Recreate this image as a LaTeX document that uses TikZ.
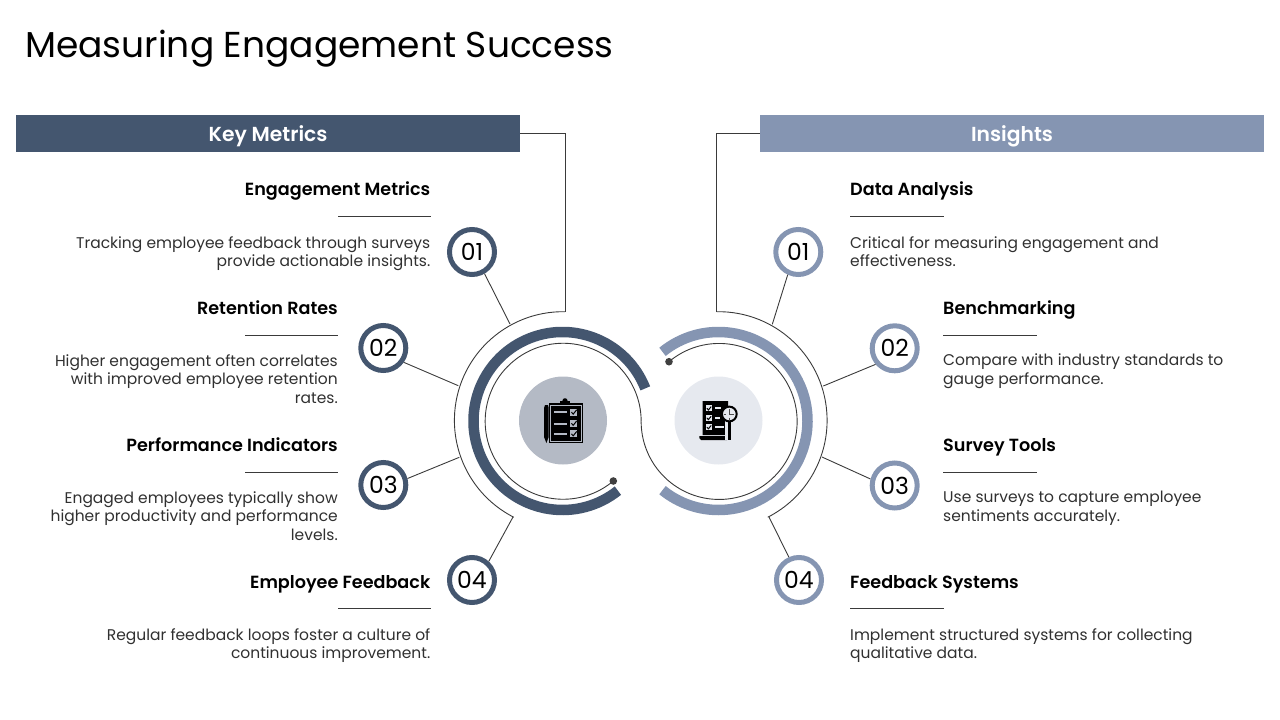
\documentclass[tikz,border=0pt]{standalone}
\usepackage{fontspec}
\setmainfont{Poppins}
\newfontfamily\semib{Poppins SemiBold}
\definecolor{navy}{HTML}{44566F}
\definecolor{steel}{HTML}{8595B2}
\definecolor{discA}{HTML}{B4BAC5}
\definecolor{discB}{HTML}{E6E9EF}
\definecolor{wire}{HTML}{3A3A3A}
\definecolor{dot}{HTML}{404040}
\definecolor{body}{HTML}{303030}
\tikzset{
  thin wire/.style={draw=wire,line width=0.9pt},
  band/.style={line width=10.5pt},
  numA/.style={circle,draw=navy,line width=5pt,minimum size=45pt,inner sep=0pt,text height=17pt,text depth=0pt,font=\fontsize{23.5}{24}\selectfont,text=black},
  numB/.style={circle,draw=steel,line width=5pt,minimum size=45pt,inner sep=0pt,text height=17pt,text depth=0pt,font=\fontsize{23.5}{24}\selectfont,text=black},
  header/.style={minimum width=504pt,minimum height=37pt,inner sep=0pt,text=white},
  hdrtxt/.style={inner sep=0pt,text=white,font=\fontsize{20.3}{22}\selectfont\semib},
  ttlL/.style={anchor=base east,inner sep=0pt,font=\fontsize{17.6}{20}\selectfont\semib,text=black},
  ttlR/.style={anchor=base west,inner sep=0pt,font=\fontsize{17.6}{20}\selectfont\semib,text=black},
  txtL/.style={anchor=north east,inner sep=0pt,align=right,font=\fontsize{15.5}{18.5}\selectfont,text=body},
  txtR/.style={anchor=north west,inner sep=0pt,align=left,font=\fontsize{15.5}{18.5}\selectfont,text=body},
  rulel/.style={draw=wire,line width=0.8pt},
  tick/.style={draw=black,line width=1pt,line cap=round},
}
\begin{document}
\begin{tikzpicture}[x=1pt,y=-1pt]
\useasboundingbox (0,0) rectangle (1280,720);
\node[anchor=base west,inner sep=0pt,font=\fontsize{36}{40}\selectfont,text=black] (title) at (25,57) {Measuring Engagement Success};
\node[header,fill=navy] (hk) at (268,133.5) {};
\node[header,fill=steel] (hi) at (1012,133.5) {};
\node[hdrtxt,anchor=base] (hkt) at (268,141) {Key Metrics};
\node[hdrtxt,anchor=base] (hit) at (1012,141) {Insights};
% ring joints
\coordinate (ringL) at (565,311.7);
\coordinate (ringR) at (716.5,311.7);
\coordinate (a1) at (510,324);
\coordinate (a2) at (458.3,385.7);
\coordinate (a3) at (459.3,457.3);
\coordinate (a4) at (513,517);
\coordinate (b1) at (772.3,324.3);
\coordinate (b2) at (823.3,386);
\coordinate (b3) at (822,457);
\coordinate (b4) at (769,517);
% outer rings
\draw[thin wire] (ringL) arc[start angle=-89,end angle=-243,radius=108.7];
\draw[thin wire] (ringR) arc[start angle=-91,end angle=63,radius=108.7];
\draw[thin wire] (hk.east) -| (ringL);
\draw[thin wire] (hi.west) -| (ringR);
% thick bands
\draw[band,navy] (562.5,421) ++(-21.5:89) arc[start angle=-21.5,end angle=-308.5,radius=89];
\draw[band,steel] (718.5,421) ++(-129:89) arc[start angle=-129,end angle=129,radius=89];
% inner S curve
\coordinate (sL) at (613.3,481);
\coordinate (sR) at (669,361.7);
\draw[thin wire] (sL) arc[start angle=50,end angle=360,radius=78];
\draw[thin wire] (sR) arc[start angle=-130,end angle=180,radius=78];
\fill[dot] (sL) circle (3.8);
\fill[dot] (sR) circle (3.8);
% discs
\node[circle,fill=discA,minimum size=88pt,inner sep=0pt] (da) at (563,420.5) {};
\node[circle,fill=discB,minimum size=88pt,inner sep=0pt] (db) at (718.5,420.5) {};
% clipboard icon
\fill[black] (549.3,403.3) rectangle (582.5,442.7);
\fill[black] (560,403.5) rectangle (570,401);
\fill[black] (565,400.8) circle (2.6);
\draw[discA,line width=0.7pt] (550.7,405) rectangle (581.2,441.2);
\fill[black] (544,408) -- (545,405) -- (548,405) -- (548.7,408) -- (548.7,437) -- (546.4,443) -- (544,437) -- cycle;
\foreach \y in {412.3,423.5,434}{
  \fill[discA] (554,\y-1) rectangle (566.7,\y+1);
  \fill[discA] (570,\y-3.6) rectangle (577.3,\y+3.4);
  \draw[tick] (571.6,\y) -- (573.2,\y+1.8) -- (576.6,\y-2.4);
}
% report icon
\fill[black] (702.7,401) -- (728,401) -- (728,406) -- (725,435) -- (702.7,435) -- cycle;
\fill[black] (699.3,436) -- (725,436) -- (727,440) -- (701,440) -- (699.3,438) -- cycle;
\fill[black] (727.5,420) rectangle (731,440);
\foreach \y in {408.4,418,427.2}{
  \fill[discB] (705.7,\y-3) rectangle (712.3,\y+3);
  \draw[tick] (707,\y) -- (708.4,\y+1.6) -- (711,\y-1.6);
}
\fill[discB] (714.5,407.4) rectangle (721,409.2);
\fill[discB] (714.5,417.2) rectangle (720,419);
\fill[discB] (714.5,426.4) rectangle (724,428.2);
\fill[discB] (725,421) rectangle (727.5,440);
\filldraw[fill=discB,draw=black,line width=2pt] (729.3,414) circle (7.4);
\draw[black!70,line width=0.5pt] (729.3,408.5) -- (729.3,414) -- (733.5,414) (723.5,414) -- (725.5,414) (729.3,417.5) -- (729.3,419.5);
% number badges
\node[numA] (n1) at (472,252) {01};
\node[numA] (n2) at (383.3,348) {02};
\node[numA] (n3) at (383.3,485) {03};
\node[numA] (n4) at (472,580) {04};
\node[numB] (m1) at (798.3,252) {01};
\node[numB] (m2) at (894.7,348.3) {02};
\node[numB] (m3) at (894.7,485.5) {03};
\node[numB] (m4) at (799,580) {04};
\foreach \p/\q in {n1.-60/a1,n2.-35/a2,n3.15/a3,n4.48/a4,m1.-115/b1,m2.220/b2,m3.165/b3,m4.114/b4}{\draw[thin wire] (\p) -- (\q);}
% left column
\node[ttlL] (t1) at (430.5,195) {Engagement Metrics};
\draw[rulel] (338,216) -- (430.5,216);
\node[txtL] (d1) at (430.5,236) {Tracking employee feedback through surveys\\provide actionable insights.};
\node[ttlL] (t2) at (338,314) {Retention Rates};
\draw[rulel] (245,335) -- (338,335);
\node[txtL] (d2) at (338,354) {Higher engagement often correlates\\with improved employee retention\\rates.};
\node[ttlL] (t3) at (338,451) {Performance Indicators};
\draw[rulel] (245,472) -- (338,472);
\node[txtL] (d3) at (338,491) {Engaged employees typically show\\higher productivity and performance\\levels.};
\node[ttlL] (t4) at (430.5,588) {Employee Feedback};
\draw[rulel] (338,608) -- (430.5,608);
\node[txtL] (d4) at (430.5,628) {Regular feedback loops foster a culture of\\continuous improvement.};
% right column
\node[ttlR] (u1) at (850,195) {Data Analysis};
\draw[rulel] (850,216) -- (944,216);
\node[txtR] (e1) at (850,236) {Critical for measuring engagement and\\effectiveness.};
\node[ttlR] (u2) at (943,314) {Benchmarking};
\draw[rulel] (943,335) -- (1037,335);
\node[txtR] (e2) at (943,354) {Compare with industry standards to\\gauge performance.};
\node[ttlR] (u3) at (943,451) {Survey Tools};
\draw[rulel] (943,472) -- (1037,472);
\node[txtR] (e3) at (943,491) {Use surveys to capture employee\\sentiments accurately.};
\node[ttlR] (u4) at (850,588) {Feedback Systems};
\draw[rulel] (850,608) -- (944,608);
\node[txtR] (e4) at (850,628) {Implement structured systems for collecting\\qualitative data.};
\end{tikzpicture}
\end{document}
